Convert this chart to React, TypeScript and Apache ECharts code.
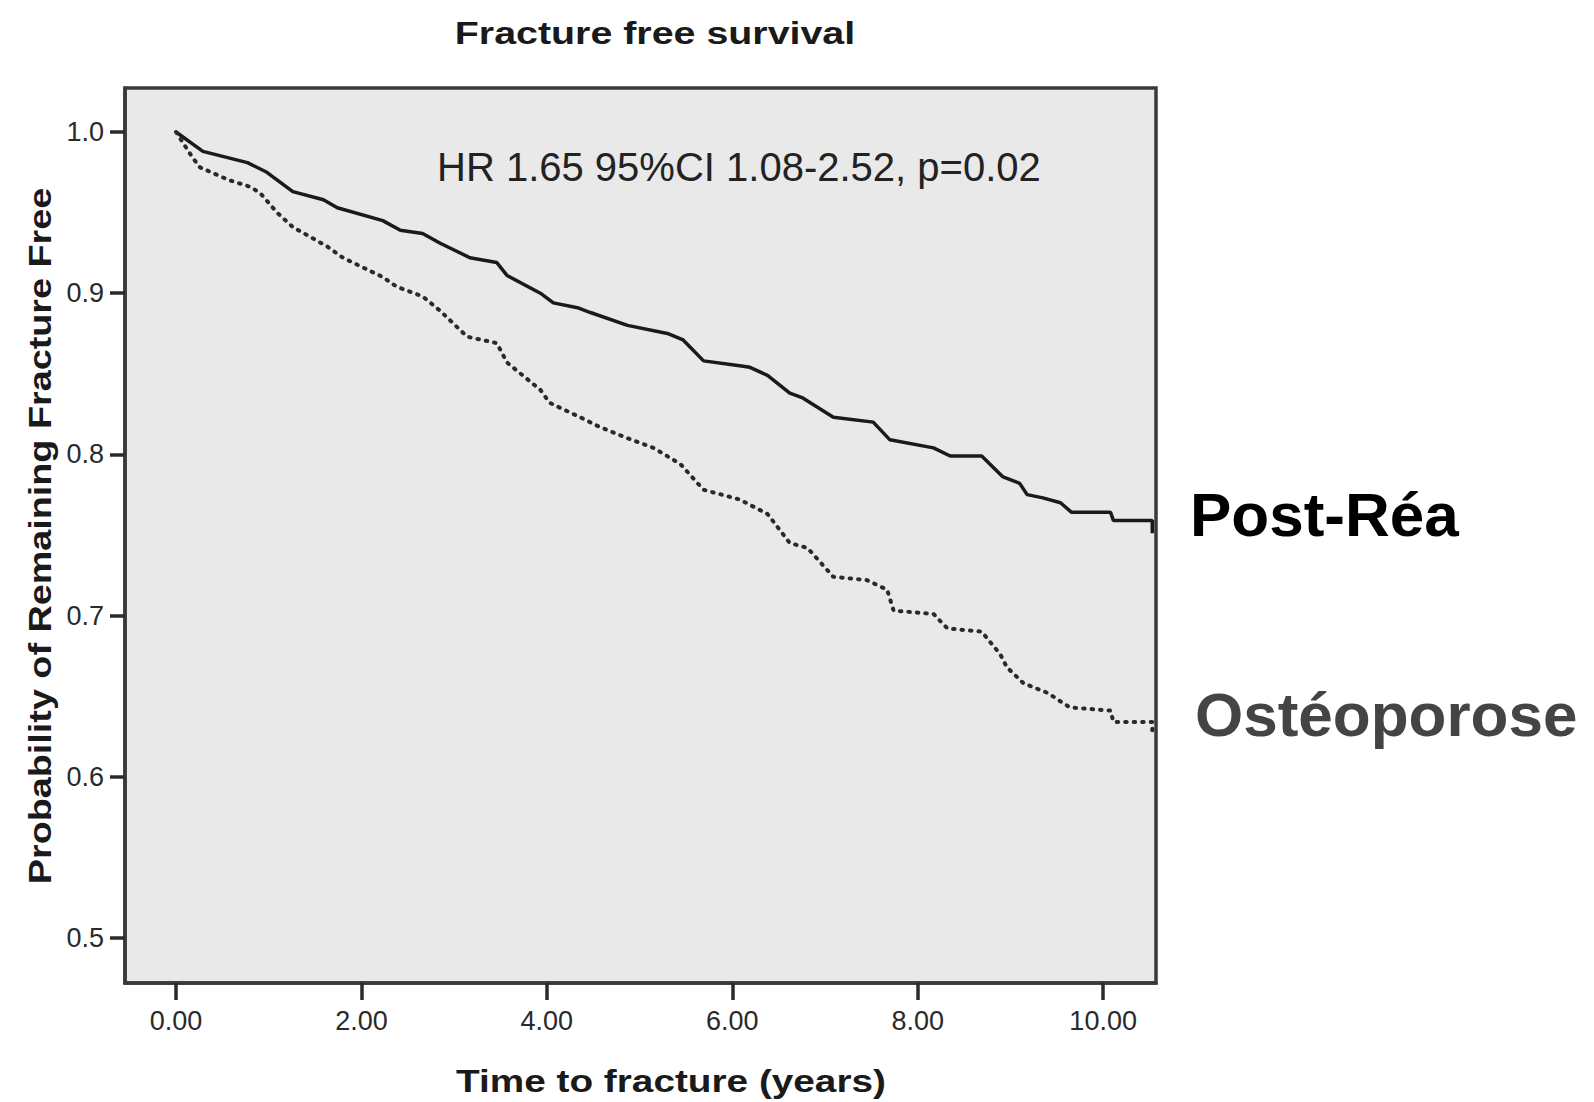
import React, { useEffect, useRef } from "react";
import * as echarts from "echarts";

// Kaplan-Meier curves
const postReaTime = [0, 0.29, 0.77, 0.98, 1.26, 1.59, 1.74, 2.23, 2.42, 2.66, 2.85, 3.17, 3.46, 3.57, 3.93, 4.07, 4.33, 4.47, 4.87, 5.30, 5.47, 5.69, 6.08, 6.19, 6.38, 6.62, 6.76, 7.09, 7.52, 7.70, 8.17, 8.35, 8.69, 8.92, 9.10, 9.18, 9.35, 9.54, 9.66, 10.08, 10.11, 10.53, 10.53];
const postReaSurv = [1.0, 0.988, 0.981, 0.975, 0.963, 0.958, 0.953, 0.945, 0.939, 0.937, 0.931, 0.922, 0.919, 0.911, 0.900, 0.894, 0.891, 0.888, 0.880, 0.875, 0.871, 0.858, 0.855, 0.854, 0.849, 0.838, 0.835, 0.823, 0.820, 0.809, 0.804, 0.799, 0.799, 0.786, 0.782, 0.775, 0.773, 0.770, 0.764, 0.764, 0.759, 0.759, 0.751];

const osteoTime = [0, 0.18, 0.26, 0.58, 0.80, 0.91, 1.09, 1.26, 1.63, 1.80, 2.23, 2.38, 2.66, 2.85, 3.14, 3.46, 3.57, 3.93, 4.03, 4.36, 4.57, 4.87, 5.15, 5.44, 5.69, 6.08, 6.38, 6.62, 6.81, 7.09, 7.45, 7.67, 7.74, 8.17, 8.32, 8.69, 8.89, 8.96, 9.14, 9.40, 9.64, 10.08, 10.11, 10.53, 10.53];
const osteoSurv = [1.0, 0.984, 0.978, 0.970, 0.966, 0.962, 0.950, 0.941, 0.929, 0.922, 0.910, 0.904, 0.898, 0.889, 0.873, 0.869, 0.857, 0.840, 0.832, 0.823, 0.817, 0.810, 0.804, 0.794, 0.778, 0.772, 0.763, 0.745, 0.742, 0.724, 0.722, 0.716, 0.703, 0.701, 0.692, 0.690, 0.676, 0.668, 0.658, 0.652, 0.643, 0.641, 0.634, 0.634, 0.625];

const xTicks = [0, 2, 4, 6, 8, 10];
const yTicks = [0.5, 0.6, 0.7, 0.8, 0.9, 1.0];

const titleText = "Fracture free survival";
const xName = "Time to fracture (years)";
const yName = "Probability of Remaining Fracture Free";
const hrText = "HR 1.65 95%CI 1.08-2.52, p=0.02";
const seriesNames = ["Post-Réa", "Ostéoporose"];

const X_MIN = -0.55;
const X_MAX = 10.57;
const Y_MIN = 0.472;
const Y_MAX = 1.0273;

const FONT = "Arial, 'Liberation Sans', Helvetica, sans-serif";

export default function App() {
  const ref = useRef<HTMLDivElement>(null);

  useEffect(() => {
    document.body.style.margin = "0";
    if (!ref.current) return;
    const chart = echarts.init(ref.current, null, { renderer: "svg" });

    const zip = (t: number[], s: number[]) => t.map((v, i) => [v, s[i]]);
    const axisColor = "#2a2a2a";

    chart.setOption({
      animation: false,
      grid: {
        left: 125,
        top: 88,
        width: 1031,
        height: 895,
        show: true,
        backgroundColor: "#e9e9e9",
        borderColor: "#3a3a3a",
        borderWidth: 3.5,
      },
      xAxis: {
        type: "value",
        min: X_MIN,
        max: X_MAX,
        axisLine: { show: true, onZero: false, lineStyle: { color: "#3a3a3a", width: 3.5 } },
        splitLine: { show: false },
        axisTick: {
          show: true,
          customValues: xTicks,
          length: 17,
          lineStyle: { color: axisColor, width: 3.5 },
        },
        axisLabel: {
          customValues: xTicks,
          formatter: (v: number) => v.toFixed(2),
          margin: 24,
          fontFamily: FONT,
          fontSize: 27,
          color: axisColor,
        },
      },
      yAxis: {
        type: "value",
        min: Y_MIN,
        max: Y_MAX,
        axisLine: { show: true, onZero: false, lineStyle: { color: "#3a3a3a", width: 3.5 } },
        splitLine: { show: false },
        axisTick: {
          show: true,
          customValues: yTicks,
          length: 15,
          lineStyle: { color: axisColor, width: 3.5 },
        },
        axisLabel: {
          customValues: yTicks,
          formatter: (v: number) => v.toFixed(1),
          margin: 21,
          fontFamily: FONT,
          fontSize: 27,
          color: axisColor,
        },
      },
      series: [
        {
          name: seriesNames[0],
          type: "line",
          data: zip(postReaTime, postReaSurv),
          showSymbol: false,
          lineStyle: { color: "#1a1a1a", width: 3.5 },
          z: 3,
        },
        {
          name: seriesNames[1],
          type: "line",
          data: zip(osteoTime, osteoSurv),
          showSymbol: false,
          lineStyle: { color: "#2a2a2a", width: 4, type: [1.5, 7], cap: "round" },
          z: 3,
        },
      ],
      graphic: [
        {
          type: "text",
          x: 655,
          y: 34,
          scaleX: 1.27,
          style: {
            text: titleText,
            font: `bold 31px ${FONT}`,
            fill: "#1a1a1a",
            textAlign: "center",
            textVerticalAlign: "middle",
          },
        },
        {
          type: "text",
          x: 671,
          y: 1081,
          scaleX: 1.25,
          style: {
            text: xName,
            font: `bold 31px ${FONT}`,
            fill: "#1a1a1a",
            textAlign: "center",
            textVerticalAlign: "middle",
          },
        },
        {
          type: "text",
          x: 40,
          y: 536,
          rotation: Math.PI / 2,
          scaleX: 1.18,
          style: {
            text: yName,
            font: `bold 32px ${FONT}`,
            fill: "#1a1a1a",
            textAlign: "center",
            textVerticalAlign: "middle",
          },
        },
        {
          type: "text",
          x: 437,
          y: 167,
          z: 10,
          style: {
            text: hrText,
            font: `40px ${FONT}`,
            fill: "#222",
            textAlign: "left",
            textVerticalAlign: "middle",
          },
        },
        {
          type: "text",
          x: 1190,
          y: 514,
          style: {
            text: seriesNames[0],
            font: `bold 62px ${FONT}`,
            fill: "#000",
            textAlign: "left",
            textVerticalAlign: "middle",
          },
        },
        {
          type: "text",
          x: 1195,
          y: 714,
          style: {
            text: seriesNames[1],
            font: `bold 62px ${FONT}`,
            fill: "#444",
            textAlign: "left",
            textVerticalAlign: "middle",
          },
        },
      ],
    });

    return () => chart.dispose();
  }, []);

  return <div ref={ref} style={{ width: 1594, height: 1102 }} />;
}
